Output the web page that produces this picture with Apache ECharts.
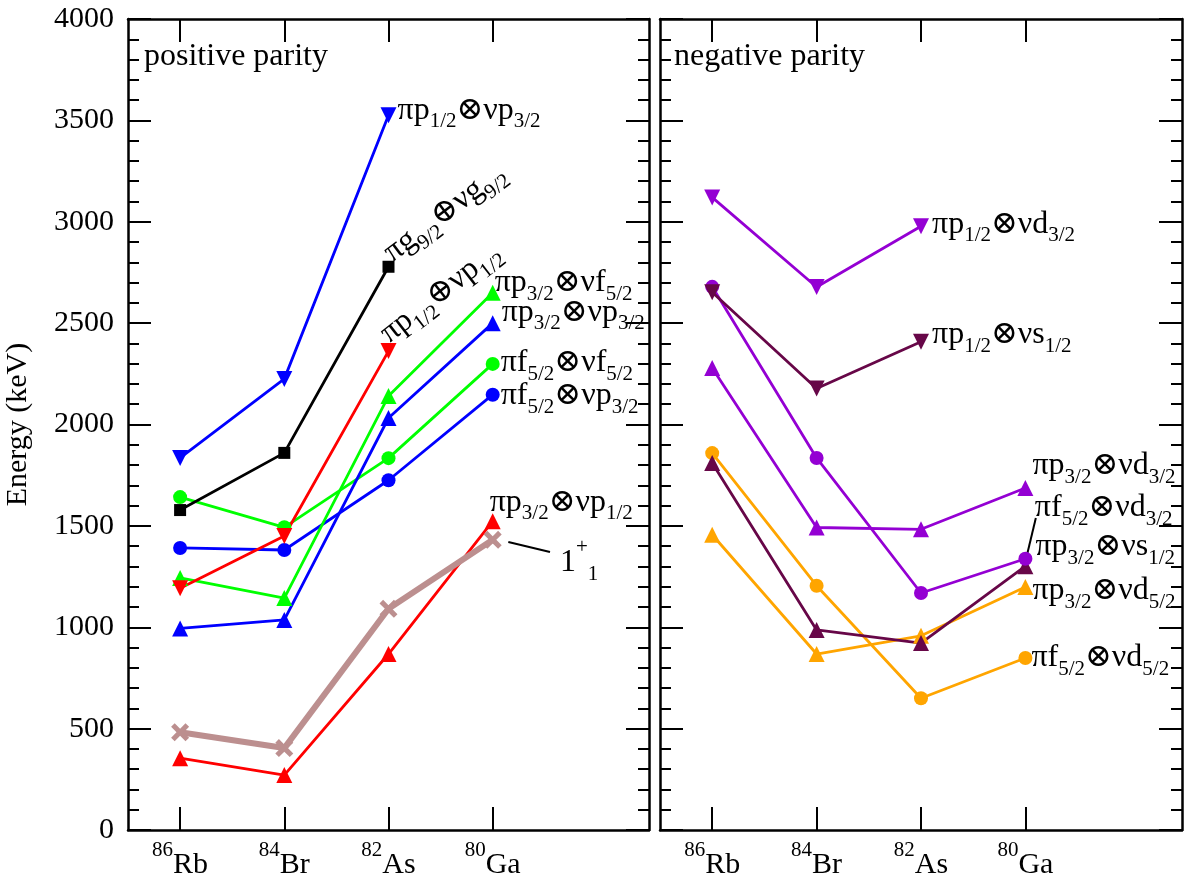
<!DOCTYPE html>
<html><head><meta charset="utf-8">
<script src="https://cdn.jsdelivr.net/npm/echarts@6/dist/echarts.min.js"></script>
<style>html,body{margin:0;padding:0;background:#fff}#c{width:1187px;height:881px}</style>
</head><body><div id="c"></div>
<script>
// ---------- data ----------
const nuclei = ['Rb', 'Br', 'As', 'Ga'];
const massNumbers = ['86', '84', '82', '80'];
const nucleusPos = [0, 1, 2, 3];

// positive parity (keV)
const pos_p12_p32 = [1835, 2225, 3525];
const pos_g92_g92 = [1578, 1860, 2778];
const pos_p12_p12 = [1192, 1450, 2362];
const pos_p32_f52 = [1243, 1144, 2140, 2650];
const pos_p32_p32 = [994, 1036, 2032, 2500];
const pos_f52_f52 = [1642, 1493, 1834, 2299];
const pos_f52_p32 = [1391, 1381, 1725, 2147];
const pos_p32_p12 = [354, 271, 868, 1523];
const pos_1plus1 = [482, 404, 1091, 1431];

// negative parity (keV)
const neg_p12_d32 = [3120, 2678, 2978];
const neg_p12_s12 = [2652, 2178, 2408];
const neg_p32_s12 = [2679, 1835, 1169, 1338];
const neg_p32_d32 = [2279, 1492, 1483, 1687];
const neg_f52_d32 = [1810, 987, 922, 1301];
const neg_f52_d52 = [1859, 1205, 650, 848];
const neg_p32_d52 = [1456, 868, 958, 1199];

// leader lines (x in nucleus index units, y in keV)
const leader1plus1 = [[3.15, 1420], [3.55, 1371]];
const leaderF52D32 = [[3.01, 1345], [3.10, 1539]];

// ---------- styling ----------
const FONT = "'Liberation Serif','DejaVu Serif',serif";
const rich = {
  m:  {fontSize: 32, lineHeight: 32, fontFamily: FONT, color: '#000', verticalAlign: 'top'},
  s:  {fontSize: 21, lineHeight: 21, fontFamily: FONT, color: '#000', verticalAlign: 'top', padding: [17, 0, 0, 0]},
  mu: {fontSize: 32, lineHeight: 32, fontFamily: FONT, color: '#000', verticalAlign: 'top', padding: [10, 0, 0, 0]},
  sup:{fontSize: 21, lineHeight: 21, fontFamily: FONT, color: '#000', verticalAlign: 'top'},
  s2: {fontSize: 21, lineHeight: 21, fontFamily: FONT, color: '#000', verticalAlign: 'top', padding: [27, 0, 0, 0]}
};
function cfgLabel(a, b, c, d) { return `{m|${a}}{s|${b}}{m|${c}}{s|${d}}`; }

const BLUE = '#0000ff', RED = '#ff0000', GREEN = '#00ff00', BLACK = '#000000',
      ROSY = '#bc8f8f', VIOLET = '#9400d3', MAROON = '#670748', ORANGE = '#ffa500';
const XSYM = 'path://M2,0 L5,3 L8,0 L10,2 L7,5 L10,8 L8,10 L5,7 L2,10 L0,8 L3,5 L0,2 Z';

const specs = [
  // panel 0
  {p: 0, d: pos_p32_p12, c: RED, sym: 'triangle', lab: cfgLabel('πp','3/2','⊗νp','1/2'), off: [-16, -19]},
  {p: 0, d: pos_1plus1, c: ROSY, sym: 'x', w: 6},
  {p: 0, d: pos_f52_p32, c: BLUE, sym: 'circle', lab: cfgLabel('πf','5/2','⊗νp','3/2'), off: [-4, 1]},
  {p: 0, d: pos_f52_f52, c: GREEN, sym: 'circle', lab: cfgLabel('πf','5/2','⊗νf','5/2'), off: [-4, -1]},
  {p: 0, d: pos_p32_p32, c: BLUE, sym: 'triangle', lab: cfgLabel('πp','3/2','⊗νp','3/2'), off: [-4, -11]},
  {p: 0, d: pos_p32_f52, c: GREEN, sym: 'triangle', lab: cfgLabel('πp','3/2','⊗νf','5/2'), off: [-11, -10]},
  {p: 0, d: pos_p12_p12, c: RED, sym: 'down', lab: cfgLabel('πp','1/2','⊕νp','1/2'), rot: 38, off: [-5, -22]},
  {p: 0, d: pos_g92_g92, c: BLACK, sym: 'rect', lab: cfgLabel('πg','9/2','⊕νg','9/2'), rot: 37, off: [-3, -16]},
  {p: 0, d: pos_p12_p32, c: BLUE, sym: 'down', lab: cfgLabel('πp','1/2','⊗νp','3/2'), off: [-4, -5]},
  // panel 1
  {p: 1, d: neg_p32_d52, c: ORANGE, sym: 'triangle', lab: cfgLabel('πp','3/2','⊗νd','5/2'), off: [-6, 4]},
  {p: 1, d: neg_f52_d52, c: ORANGE, sym: 'circle', lab: cfgLabel('πf','5/2','⊗νd','5/2'), off: [-6, 0]},
  {p: 1, d: neg_f52_d32, c: MAROON, sym: 'triangle'},
  {p: 1, d: neg_p32_d32, c: VIOLET, sym: 'triangle', lab: cfgLabel('πp','3/2','⊗νd','3/2'), off: [-6, -22]},
  {p: 1, d: neg_p32_s12, c: VIOLET, sym: 'circle', lab: cfgLabel('πp','3/2','⊗νs','1/2'), off: [-2, -12]},
  {p: 1, d: neg_p12_s12, c: MAROON, sym: 'down', lab: cfgLabel('πp','1/2','⊗νs','1/2'), off: [-2, -7]},
  {p: 1, d: neg_p12_d32, c: VIOLET, sym: 'down', lab: cfgLabel('πp','1/2','⊗νd','3/2'), off: [-2, -2]}
];

const symSize = {circle: 14, triangle: 16, down: 16, rect: 12, x: 18};

function buildSeries(sp) {
  const symbol = sp.sym === 'down' ? 'triangle' : (sp.sym === 'x' ? XSYM : sp.sym);
  const data = sp.d.map((v, i) => {
    const item = {value: [nucleusPos[i], v]};
    if (sp.lab && i === sp.d.length - 1) {
      item.label = {
        show: true, position: 'right', distance: 5,
        formatter: sp.lab, rich: rich,
        rotate: sp.rot || 0, offset: sp.off || [0, 0]
      };
    }
    return item;
  });
  return {
    type: 'line', xAxisIndex: sp.p * 2, yAxisIndex: sp.p * 2, data,
    symbol, symbolSize: symSize[sp.sym], symbolRotate: sp.sym === 'down' ? 180 : 0,
    showAllSymbol: true, animation: false, silent: true,
    lineStyle: {color: sp.c, width: sp.w || 2.8},
    itemStyle: {color: sp.c, opacity: 1},
    label: {show: false}, z: 3
  };
}

function leaderSeries(axisIdx, pts, labelText, off) {
  return {
    type: 'line', xAxisIndex: axisIdx, yAxisIndex: axisIdx, animation: false, silent: true,
    symbol: 'circle', symbolSize: 0.01, showAllSymbol: true,
    itemStyle: {color: 'rgba(0,0,0,0)'},
    lineStyle: {color: '#000', width: 2},
    data: [
      {value: pts[0], label: {show: false}},
      {value: pts[1], label: {show: true, position: 'right', distance: 5,
        formatter: labelText, rich: rich, offset: off}}
    ],
    z: 2
  };
}

const series = specs.map(buildSeries);
series.push(leaderSeries(0, leader1plus1, '{mu|1}{sup|+}{s2|1}', [5, 1]));
series.push(leaderSeries(2, leaderF52D32, cfgLabel('πf','5/2','⊗νd','3/2'), [-6, -10]));

const axisLineStyle = {color: '#000', width: 2.5};
function xAxes(g) {
  const common = {
    gridIndex: g, type: 'value', min: -0.5, max: 4.5,
    axisLine: {show: true, onZero: false, lineStyle: axisLineStyle},
    axisTick: {show: true, inside: true, length: 23, customValues: nucleusPos, lineStyle: {color: '#000', width: 2}},
    splitLine: {show: false}
  };
  return [
    Object.assign({}, common, {position: 'bottom', axisLabel: {
      show: true, customValues: nucleusPos, margin: 10,
      formatter: v => `{sup|${massNumbers[v]}}{mu|${nuclei[v]}}`,
      rich: {sup: rich.sup, mu: Object.assign({}, rich.mu, {fontSize: 30, lineHeight: 30})}
    }}),
    Object.assign({}, common, {position: 'top', axisLabel: {show: false}})
  ];
}
function yAxes(g, withLabels) {
  const common = {
    gridIndex: g, type: 'value', min: 0, max: 4000, interval: 500,
    axisLine: {show: true, onZero: false, lineStyle: axisLineStyle},
    axisTick: {show: true, inside: true, length: 23, lineStyle: {color: '#000', width: 2}},
    minorTick: {show: true, splitNumber: 5, length: 11, lineStyle: {color: '#000', width: 2}},
    splitLine: {show: false}
  };
  const left = Object.assign({}, common, {position: 'left', axisLabel: withLabels ? {
    show: true, margin: 14, fontSize: 30, fontFamily: FONT, color: '#000',
    formatter: v => String(v)} : {show: false}});
  if (withLabels) {
    Object.assign(left, {name: 'Energy (keV)', nameLocation: 'middle', nameGap: 95,
      nameTextStyle: {fontSize: 30, fontFamily: FONT, color: '#000'}});
  }
  const right = Object.assign({}, common, {position: 'right', axisLabel: {show: false}});
  return [left, right];
}

const option = {
  backgroundColor: '#fff',
  animation: false,
  title: [
    {text: 'positive parity', left: 144, top: 41, padding: 0,
     textStyle: {fontSize: 32, fontFamily: FONT, fontWeight: 'normal', color: '#000'}},
    {text: 'negative parity', left: 674, top: 41, padding: 0,
     textStyle: {fontSize: 32, fontFamily: FONT, fontWeight: 'normal', color: '#000'}}
  ],
  grid: [
    {left: 128, top: 19, width: 521, height: 811},
    {left: 660, top: 19, width: 522, height: 811}
  ],
  xAxis: [...xAxes(0), ...xAxes(1)],
  yAxis: [...yAxes(0, true), ...yAxes(1, false)],
  series
};

const chart = echarts.init(document.getElementById('c'), null, {renderer: 'canvas'});
chart.setOption(option);
</script>
</body></html>
